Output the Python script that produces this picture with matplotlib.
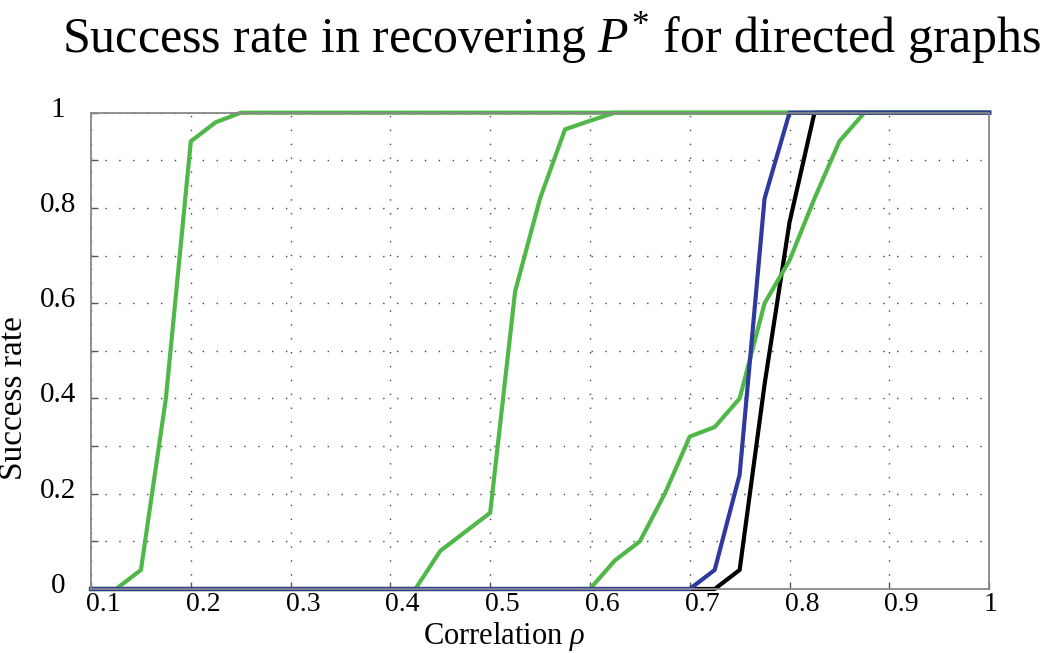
import numpy as np
import matplotlib
matplotlib.use("Agg")
import matplotlib.pyplot as plt
import matplotlib.transforms as mtransforms
from matplotlib.ticker import FixedLocator

plt.rcParams['font.family'] = ['Liberation Serif', 'DejaVu Serif']
plt.rcParams['mathtext.fontset'] = 'custom'
plt.rcParams['mathtext.rm'] = 'Liberation Serif'
plt.rcParams['mathtext.it'] = 'Liberation Serif:italic'

# correlation grid, step 0.025 from 0.1 to 1
rho = [0.1, 0.125, 0.15, 0.175, 0.2, 0.225, 0.25, 0.275, 0.3, 0.325,
       0.35, 0.375, 0.4, 0.425, 0.45, 0.475, 0.5, 0.525, 0.55, 0.575,
       0.6, 0.625, 0.65, 0.675, 0.7, 0.725, 0.75, 0.775, 0.8, 0.825,
       0.85, 0.875, 0.9, 0.925, 0.95, 0.975, 1.0]

green_a = [0, 0, 0.04, 0.40, 0.94, 0.98] + [1] * 31
green_b = [0] * 14 + [0.08, 0.12, 0.16, 0.625, 0.82, 0.965, 0.983] + [1] * 16
green_c = [0] * 21 + [0.06, 0.10, 0.20, 0.32, 0.34, 0.40, 0.60, 0.69, 0.82,
                      0.94] + [1] * 6
blue = [0] * 25 + [0.04, 0.24, 0.82] + [1] * 9
black = [0] * 26 + [0.04, 0.43, 0.77] + [1] * 8

xticks = [0.1, 0.2, 0.3, 0.4, 0.5, 0.6, 0.7, 0.8, 0.9, 1.0]
xlabels = ['0.1', '0.2', '0.3', '0.4', '0.5', '0.6', '0.7', '0.8', '0.9', '1']
yticks = [0, 0.2, 0.4, 0.6, 0.8, 1.0]
ylabels = ['0', '0.2', '0.4', '0.6', '0.8', '1']

green_col = '#4fb848'
blue_col = '#2e3a9e'

fig = plt.figure(figsize=(10.5, 6.53), dpi=100)
ax = fig.add_axes([0.0867, 0.098, 0.8553, 0.7294])

lw = 3.0
ax.plot(rho, black, color='black', lw=lw, clip_on=False, zorder=3)
ax.plot(rho, green_a, color=green_col, lw=lw, clip_on=False, zorder=4)
ax.plot(rho, green_b, color=green_col, lw=lw, clip_on=False, zorder=4)
ax.plot(rho, green_c, color=green_col, lw=lw, clip_on=False, zorder=4)
ax.plot(rho, blue, color=blue_col, lw=lw, clip_on=False, zorder=5)

ax.set_xlim(0.1, 1.0)
ax.set_ylim(0, 1)

ax.set_xticks(xticks)
ax.set_xticklabels(xlabels)
ax.set_yticks(yticks)
ax.set_yticklabels(ylabels)
ax.yaxis.set_minor_locator(FixedLocator([0.1, 0.3, 0.5, 0.7, 0.9]))

ax.tick_params(which='both', direction='in', length=5, width=1, color='#555555',
               labelsize=21, top=False, right=False)
ax.tick_params(axis='x', labelsize=20, pad=2)
ax.tick_params(axis='y', pad=24)

# x labels start just left of their tick, y labels are centred and sit a bit high
shift_x = mtransforms.ScaledTranslation(-0.05, 0, fig.dpi_scale_trans)
for lab in ax.get_xticklabels():
    lab.set_horizontalalignment('left')
    lab.set_transform(lab.get_transform() + shift_x)
shift_y = mtransforms.ScaledTranslation(0, 0.06, fig.dpi_scale_trans)
for lab in ax.get_yticklabels():
    lab.set_horizontalalignment('center')
    lab.set_transform(lab.get_transform() + shift_y)

ax.grid(True, which='both', color='#444444', linestyle=(0, (1, 9)), lw=1.0)
ax.set_axisbelow(True)

for s in ax.spines.values():
    s.set_color('#888888')
    s.set_linewidth(1.3)
    s.set_zorder(6)

fig.text(0.48, 1 - 644 / 653, r'Correlation $\rho$', ha='center', va='baseline',
         fontsize=22)
fig.text(0.013, 0.39, 'Success rate', rotation=90, ha='center', va='center',
         fontsize=24)
fig.text(0.525, 0.985, r'Success rate in recovering $P^{*}$ for directed graphs',
         ha='center', va='top', fontsize=36)

fig.savefig('out.png', dpi=100)
